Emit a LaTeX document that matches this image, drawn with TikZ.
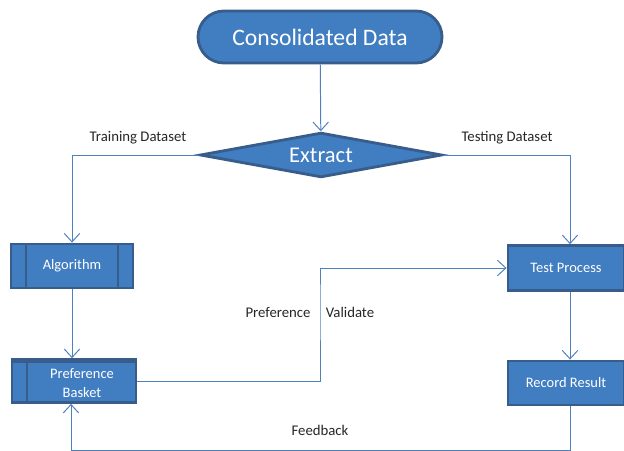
\documentclass[tikz,border=0pt]{standalone}
\usepackage{fontspec}
\setmainfont{Carlito}
\usetikzlibrary{shapes.geometric,shapes.misc,arrows.meta}

\definecolor{boxblue}{RGB}{64,125,193}
\definecolor{boxedge}{RGB}{56,93,138}
\definecolor{flowline}{RGB}{79,129,189}

\tikzset{
  block/.style={draw=boxedge, line width=2pt, fill=boxblue, text=white,
    font=\fontsize{10.3}{13.5}\selectfont, minimum height=1.1cm, inner sep=0pt},
  flow/.style={draw=flowline, line width=0.7pt,
    -{Straight Barb[length=6pt,width=11pt]}},
  tag/.style={font=\fontsize{10.5}{12}\selectfont, text=black!85}
}

\begin{document}
\begin{tikzpicture}[x=0.025cm,y=-0.025cm]
	\useasboundingbox (0,0) rectangle (624,451);
	
	% top of the flow
	\node[block, shape=rounded rectangle, minimum width=6.1cm, minimum height=1.3cm,
		font=\fontsize{16.8}{18}\selectfont] (data) at (320,37) {Consolidated Data};
	
	\node[block, shape=diamond, aspect=5.4, minimum width=6.05cm, minimum height=1.12cm,
		font=\fontsize{16}{18}\selectfont] (extract) at (321,155) {Extract};
	
	% left column
	\node[block, minimum width=3.05cm] (alg) at (72,266) {Algorithm};
	\draw[boxedge, line width=1.5pt] ([xshift=0.4cm]alg.north west) -- ([xshift=0.4cm]alg.south west);
	\draw[boxedge, line width=1.5pt] ([xshift=-0.4cm]alg.north east) -- ([xshift=-0.4cm]alg.south east);
	
	\node[block, minimum width=3.1cm, minimum height=1.07cm] (basket) at (74,381) {};
	\draw[boxedge, line width=1.5pt] ([yshift=-0.1cm]basket.north west) -- ([yshift=-0.1cm]basket.north east);
	\draw[boxedge, line width=1.5pt] ([xshift=0.4cm]basket.north west) -- ([xshift=0.4cm]basket.south west);
	\node[text=white, font=\fontsize{10.3}{13.5}\selectfont, align=center] (basketText) at (82,383)
		{Preference\\Basket};
	
	% right column
	\node[block, minimum width=2.9cm, minimum height=1.12cm] (test) at (566,268) {Test Process};
	\node[block, minimum width=2.9cm] (record) at (566,383) {Record Result};
	
	\coordinate (turn) at (320,300);
	\coordinate (fbk) at (71,450);
	
	% connectors
	\draw[flow] (data) -- (extract);
	\draw[flow] (extract.west) -| (alg.north);
	\draw[flow] (extract.east) -| ([xshift=0.1cm]test.north);
	\draw[flow] (alg) -- (alg |- basket.north);
	\draw[flow] (basket.east) -| (turn) |- (test.west);
	\draw[flow] ([xshift=0.1cm]test.south) -- ([xshift=0.1cm]record.north);
	\draw[flow] ([xshift=0.1cm]record.south) |- (fbk) -- (fbk |- basket.south);
	
	% labels
	\node[tag] (train) at (138,138) {Training Dataset};
	\node[tag] (testing) at (507,138) {Testing Dataset};
	\node[tag] (pref) at (278,312) {Preference};
	\node[tag] (valid) at (350,312) {Validate};
	\node[tag] (feed) at (320,430) {Feedback};
\end{tikzpicture}
\end{document}
